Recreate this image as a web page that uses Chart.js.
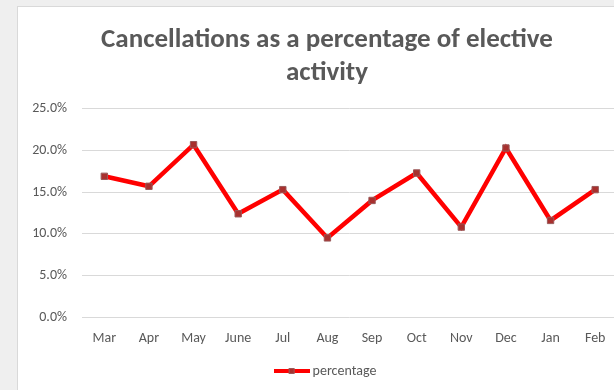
<!DOCTYPE html>
<html>
<head>
<meta charset="utf-8">
<script src="https://cdn.jsdelivr.net/npm/chart.js@4"></script>
<style>
  html, body { margin: 0; padding: 0; background: #efefef; overflow: hidden; width: 614px; height: 390px; }
  #frame { position: absolute; left: 17px; top: 6px; width: 620px; height: 400px; background: #ffffff; border: 1px solid #d9d9d9; }
  #wrap { position: absolute; left: 0; top: 0; width: 618px; height: 383px; }
</style>
</head>
<body>
<div id="frame"><div id="wrap"><canvas id="c" width="618" height="383"></canvas></div></div>
<script>
const categories = ["Mar", "Apr", "May", "June", "Jul", "Aug", "Sep", "Oct", "Nov", "Dec", "Jan", "Feb"];
const percentage = [16.9, 15.7, 20.7, 12.4, 15.3, 9.5, 14.0, 17.3, 10.8, 20.3, 11.6, 15.3];
const yTicks = [0, 5, 10, 15, 20, 25];
const titleLines = ["Cancellations as a percentage of elective", "activity"];
const seriesName = "percentage";

const FONT = "Carlito, Lato, 'Liberation Sans', sans-serif";
const TEXT = "#595959";
const GRID = "#d9d9d9";
const LINE = "#ff0000";
const MARK_FILL = "#a8302e";
const MARK_EDGE = "#9a5a5a";

// legend swatch: line with square marker
const sw = document.createElement('canvas');
sw.width = 36; sw.height = 8;
(function(){
  const g = sw.getContext('2d');
  g.fillStyle = LINE;
  g.fillRect(0, 2, 36, 4);
  g.fillStyle = MARK_FILL;
  g.strokeStyle = MARK_EDGE;
  g.lineWidth = 1;
  g.fillRect(15, 1, 6, 6);
  g.strokeRect(15.5, 1.5, 5, 5);
})();

new Chart(document.getElementById('c'), {
  type: 'line',
  data: {
    labels: categories,
    datasets: [{
      label: seriesName,
      data: percentage,
      yAxisID: 'y',
      borderColor: LINE,
      borderWidth: 4.5,
      backgroundColor: MARK_FILL,
      pointStyle: 'rect',
      pointRadius: 4.5,
      pointHoverRadius: 4.5,
      pointBackgroundColor: MARK_FILL,
      pointBorderColor: MARK_EDGE,
      pointBorderWidth: 1,
      tension: 0,
      fill: false
    }]
  },
  options: {
    responsive: false,
    animation: false,
    devicePixelRatio: 1,
    layout: { padding: { left: 0, right: 0, top: 0, bottom: 2 } },
    plugins: {
      title: {
        display: true,
        text: titleLines,
        color: TEXT,
        font: { family: FONT, size: 27, weight: 'bold', lineHeight: 1.22 },
        padding: { top: 17, bottom: 19 }
      },
      legend: {
        display: true,
        position: 'bottom',
        labels: {
          color: TEXT,
          font: { family: FONT, size: 14 },
          usePointStyle: true,
          pointStyleWidth: 28,
          padding: 10,
          generateLabels: (chart) => [{
            text: seriesName,
            pointStyle: sw,
            fillStyle: LINE,
            strokeStyle: LINE,
            lineWidth: 0,
            hidden: false,
            datasetIndex: 0,
            fontColor: TEXT
          }]
        }
      },
      tooltip: { enabled: false }
    },
    scales: {
      x: {
        offset: true,
        grid: { display: false, drawTicks: false },
        border: { display: false },
        ticks: { color: TEXT, font: { family: FONT, size: 14 }, padding: 13, maxRotation: 0, autoSkip: false },
        afterFit: (s) => { s.height = 37; }
      },
      y: {
        min: 0,
        max: 25,
        afterBuildTicks: (s) => { s.ticks = yTicks.map(v => ({ value: v })); },
        grid: { color: GRID, lineWidth: 1, drawTicks: false },
        border: { display: false },
        ticks: {
          color: TEXT,
          font: { family: FONT, size: 14 },
          padding: 15,
          callback: (v) => v.toFixed(1) + '%'
        },
        afterFit: (s) => { s.width = 64; }
      },
      yRight: {
        position: 'right',
        display: true,
        grid: { display: false, drawTicks: false },
        border: { display: false },
        ticks: { display: false },
        afterFit: (s) => { s.width = 18.5; }
      }
    }
  }
});
</script>
</body>
</html>
